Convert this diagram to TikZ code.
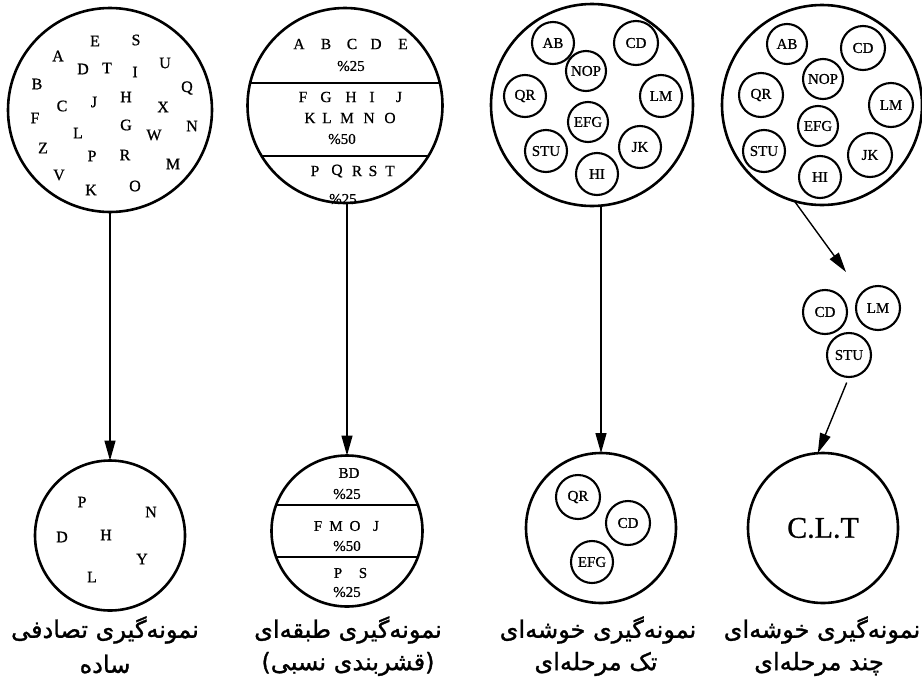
\documentclass[tikz,border=0pt]{standalone}
\usepackage{fontspec}
\setmainfont{Liberation Serif}[FakeBold=0.8]
\newfontfamily\arabicfont[Script=Arabic,FakeBold=1.2]{DejaVu Sans}
\TeXXeTstate=1
\usetikzlibrary{arrows.meta}
\tikzset{
  bigc/.style={circle, draw, line width=2.6pt, inner sep=0pt, outer sep=0pt},
  cl/.style={circle, draw, line width=2.1pt, minimum size=42pt, inner sep=0pt, outer sep=0pt, font=\fontsize{15}{15}\selectfont},
  lt/.style={inner sep=0pt, font=\fontsize{16}{16}\selectfont},
  st/.style={inner sep=0pt, font=\fontsize{15.5}{16}\selectfont},
  pc/.style={inner sep=0pt, font=\fontsize{15}{15}\selectfont},
  arr/.style={line width=1.4pt, -{Triangle[length=20pt,width=11pt]}},
  chord/.style={line width=1.8pt},
  lab/.style={inner sep=0pt, font=\arabicfont\fontsize{24}{24}\selectfont},
}
\begin{document}
\begin{tikzpicture}[x=1pt,y=-1pt]
\useasboundingbox (0,0) rectangle (922,686);

% ---- top circle 1: simple random
\node[bigc, minimum size=204pt] (t1) at (110,110) {};
\foreach \l/\x/\y in {E/95/41, S/136/40, A/58/56, U/165/63, D/83/69, T/107/68, I/135/72,
  B/37/84, Q/187/88, H/126/97, C/62/106, J/94/102, X/163/107, F/35/118, N/192/126,
  G/126/125, L/78/133, W/154/135, Z/43/148, R/125/155, P/92/156, M/173/164,
  V/59/175, O/135/186, K/91/190}
  \node[lt] (p1\l) at (\x,\y) {\l};

% ---- top circle 2: stratified
\node[bigc, minimum size=195pt] (t2) at (345,105.5) {};
\begin{scope}
  \clip (t2.center) circle (97.5pt);
  \draw[chord] (240,83) -- (450,83);
  \draw[chord] (240,156) -- (450,156);
\end{scope}
\foreach \l/\x in {A/299, B/326, C/352, D/376, E/403}
  \node[st] (s1\l) at (\x,44) {\l};
\node[pc] (s1p) at (351,66) {\%25};
\foreach \l/\x in {F/303, G/326, H/351, I/372, J/399}
  \node[st] (s2\l) at (\x,97) {\l};
\foreach \l/\x in {K/310, L/327, M/347, N/369, O/390}
  \node[st] (s3\l) at (\x,118) {\l};
\node[pc] (s2p) at (342,139) {\%50};
\foreach \l/\x in {P/315, Q/337, R/357, S/373, T/390}
  \node[st] (s4\l) at (\x,171) {\l};
\node[pc] (s3p) at (343,199) {\%25};

% ---- top circle 3: single-stage cluster
\node[bigc, minimum size=202pt] (t3) at (592,105) {};
\node[cl] (c3AB) at (553,43) {AB};
\node[cl, minimum size=44pt] (c3CD) at (636,43) {CD};
\node[cl, minimum size=40pt] (c3NOP) at (586,71) {NOP};
\node[cl] (c3QR) at (525,96) {QR};
\node[cl] (c3LM) at (661,96) {LM};
\node[cl, minimum size=40pt] (c3EFG) at (588,122) {EFG};
\node[cl] (c3STU) at (546,151) {STU};
\node[cl] (c3JK) at (640,147) {JK};
\node[cl] (c3HI) at (597,174) {HI};

% ---- top circle 4: multi-stage cluster
\node[bigc, minimum size=200pt] (t4) at (822,105) {};
\node[cl, minimum size=40pt] (c4AB) at (787,44) {AB};
\node[cl, minimum size=44pt] (c4CD) at (863,48) {CD};
\node[cl, minimum size=40pt] (c4NOP) at (823,79) {NOP};
\node[cl, minimum size=44pt] (c4QR) at (761,95) {QR};
\node[cl, minimum size=44pt] (c4LM) at (891,105) {LM};
\node[cl, minimum size=40pt] (c4EFG) at (818,126) {EFG};
\node[cl] (c4STU) at (764,151) {STU};
\node[cl, minimum size=44pt] (c4JK) at (870,155) {JK};
\node[cl] (c4HI) at (820,177) {HI};

% ---- intermediate clusters
\node[cl, minimum size=44pt] (mCD) at (825,312) {CD};
\node[cl, minimum size=44pt] (mLM) at (878,308) {LM};
\node[cl, minimum size=44pt] (mSTU) at (849,355) {STU};
\coordinate (m4) at (846,272);

% ---- bottom circle 1
\node[bigc, minimum size=150pt] (b1) at (110,535.5) {};
\foreach \l/\x/\y in {P/82/502, N/151/512, D/62/537, H/106/535, Y/142/559, L/92/577}
  \node[lt] (q1\l) at (\x,\y) {\l};

% ---- bottom circle 2
\node[bigc, minimum size=151pt] (b2) at (347,531) {};
\begin{scope}
  \clip (b2.center) circle (75.5pt);
  \draw[chord] (260,505) -- (440,505);
  \draw[chord] (260,557) -- (440,557);
\end{scope}
\node[pc] (r1) at (349,473) {BD};
\node[pc] (r1p) at (347,494) {\%25};
\foreach \l/\x in {F/318, M/336, O/355, J/376}
  \node[pc] (r2\l) at (\x,526) {\l};
\node[pc] (r2p) at (347,546) {\%50};
\node[pc] (r3P) at (338,573) {P};
\node[pc] (r3S) at (363,573) {S};
\node[pc] (r3p) at (347,592) {\%25};

% ---- bottom circle 3
\node[bigc, minimum size=150pt] (b3) at (601,528) {};
\node[cl, minimum size=44pt] (d3QR) at (578,497) {QR};
\node[cl, minimum size=44pt] (d3CD) at (628,523) {CD};
\node[cl, minimum size=42pt] (d3EFG) at (592,562) {EFG};

% ---- bottom circle 4
\node[bigc, minimum size=150pt, font=\fontsize{30}{30}\selectfont] (b4) at (823,528) {C.L.T};

% ---- arrows
\draw[arr] (t1.south) -- (b1.north);
\draw[arr] (b2.north |- t2.south) -- (b2.north);
\draw[arr] (b3.north |- t3.south) -- (b3.north);
\draw[arr] (t4.254) -- (m4);
\draw[arr, shorten <=6pt] (mSTU.south) -- (b4.94);

% ---- labels
\node[lab] (l1a) at (105,630) {\beginR نمونه‌گیری تصادفی\endR};
\node[lab] (l1b) at (105,664) {\beginR ساده\endR};
\node[lab] (l2a) at (348,630) {\beginR نمونه‌گیری طبقه‌ای\endR};
\node[lab] (l2b) at (348,664) {\beginR (قشربندی نسبی)\endR};
\node[lab] (l3a) at (598,630) {\beginR نمونه‌گیری خوشه‌ای\endR};
\node[lab] (l3b) at (596,664) {\beginR تک مرحله‌ای\endR};
\node[lab] (l4a) at (822,630) {\beginR نمونه‌گیری خوشه‌ای\endR};
\node[lab] (l4b) at (819,664) {\beginR چند مرحله‌ای\endR};
\end{tikzpicture}
\end{document}
